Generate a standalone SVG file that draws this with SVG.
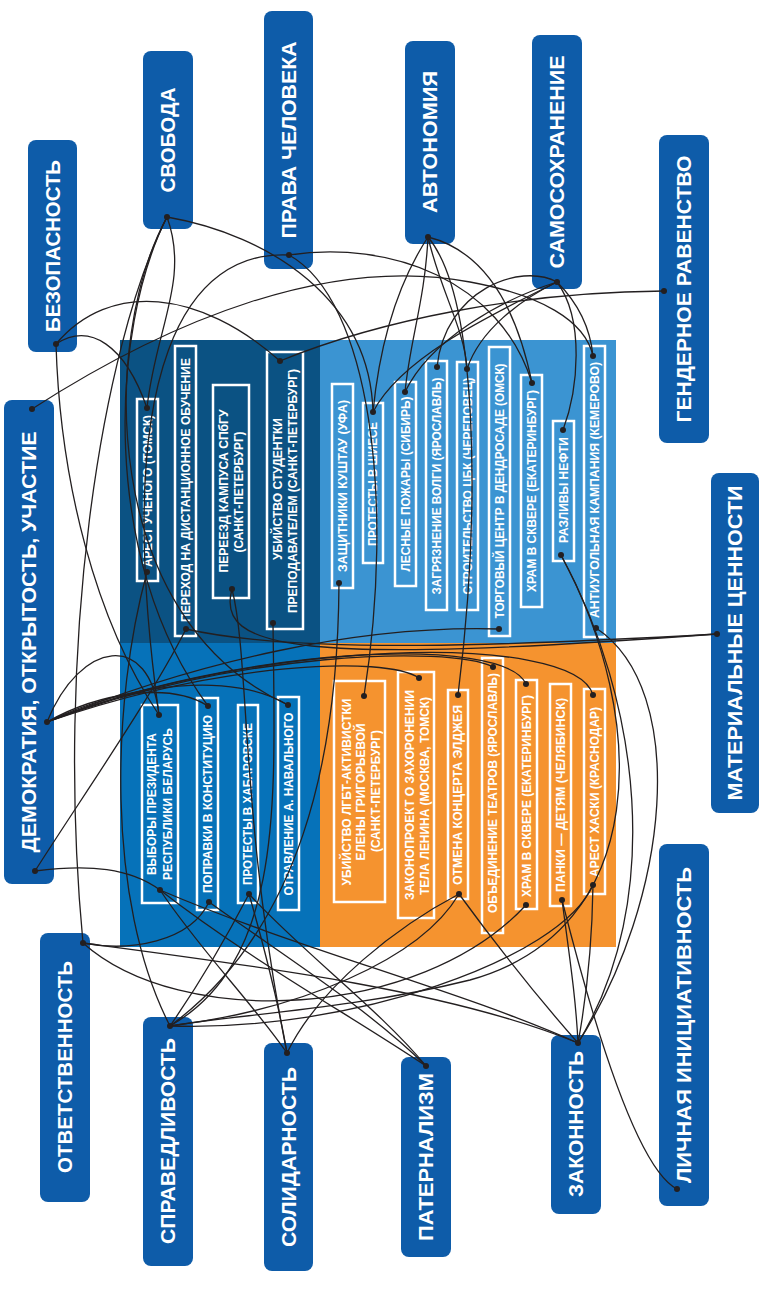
<svg xmlns="http://www.w3.org/2000/svg" width="760" height="1290" viewBox="0 0 760 1290">
<style>
.bg{fill:#ffffff}
.qa{fill:#0b5283}.qb{fill:#3b94d2}.qc{fill:#0672b9}.qd{fill:#f5932f}
.val rect{fill:#0e5ca9}
.val text{font-family:"Liberation Sans",Arial,sans-serif;font-weight:bold;font-size:20px;fill:#ffffff;text-anchor:middle}
.ev rect{fill:none;stroke:#ffffff;stroke-width:2.5}
.ev text{font-family:"Liberation Sans",Arial,sans-serif;font-weight:bold;font-size:12px;fill:#ffffff;text-anchor:middle}
.con path{fill:none;stroke:#231f20;stroke-width:1.3}
.con circle{fill:#231f20}
</style>
<rect class="bg" x="0" y="0" width="760" height="1290"/>
<g id="quadrants">
<rect class="qa" x="120" y="340" width="200" height="303"/>
<rect class="qb" x="320" y="340" width="296" height="303"/>
<rect class="qc" x="120" y="643" width="200" height="304"/>
<rect class="qd" x="320" y="643" width="296" height="304"/>
</g>
<g id="events">
<g id="ev-arest-tomsk" class="ev"><rect x="137" y="399" width="21" height="182"/><text transform="translate(151.8,491) rotate(-90)" textLength="152" lengthAdjust="spacingAndGlyphs">АРЕСТ УЧЕНОГО (ТОМСК)</text></g>
<g id="ev-perehod" class="ev"><rect x="175" y="346" width="21" height="290"/><text transform="translate(189.8,490) rotate(-90)" textLength="264" lengthAdjust="spacingAndGlyphs">ПЕРЕХОД НА ДИСТАНЦИОННОЕ ОБУЧЕНИЕ</text></g>
<g id="ev-pereezd" class="ev"><rect x="213" y="385" width="36" height="213"/><text transform="translate(228.3,491) rotate(-90)" textLength="163" lengthAdjust="spacingAndGlyphs">ПЕРЕЕЗД КАМПУСА  СПбГУ</text><text transform="translate(243.3,492) rotate(-90)" textLength="121" lengthAdjust="spacingAndGlyphs">(САНКТ-ПЕТЕРБУРГ)</text></g>
<g id="ev-ubiystvo-stud" class="ev"><rect x="267" y="352" width="36" height="277"/><text transform="translate(282.3,489) rotate(-90)" textLength="142" lengthAdjust="spacingAndGlyphs">УБИЙСТВО СТУДЕНТКИ</text><text transform="translate(297.3,491) rotate(-90)" textLength="244" lengthAdjust="spacingAndGlyphs">ПРЕПОДАВАТЕЛЕМ (САНКТ-ПЕТЕРБУРГ)</text></g>
<g id="ev-kushtau" class="ev"><rect x="332" y="384" width="21" height="204"/><text transform="translate(346.8,486) rotate(-90)" textLength="172" lengthAdjust="spacingAndGlyphs">ЗАЩИТНИКИ КУШТАУ (УФА)</text></g>
<g id="ev-shies" class="ev"><rect x="363" y="403" width="20" height="160"/><text transform="translate(377.3,484) rotate(-90)" textLength="124" lengthAdjust="spacingAndGlyphs">ПРОТЕСТЫ В ШИЕСЕ</text></g>
<g id="ev-pozhary" class="ev"><rect x="395" y="382" width="21" height="204"/><text transform="translate(409.8,484) rotate(-90)" textLength="175" lengthAdjust="spacingAndGlyphs">ЛЕСНЫЕ ПОЖАРЫ (СИБИРЬ)</text></g>
<g id="ev-volga" class="ev"><rect x="426" y="361" width="21" height="249"/><text transform="translate(440.8,486) rotate(-90)" textLength="217" lengthAdjust="spacingAndGlyphs">ЗАГРЯЗНЕНИЕ ВОЛГИ (ЯРОСЛАВЛЬ)</text></g>
<g id="ev-cbk" class="ev"><rect x="457" y="362" width="21" height="248"/><text transform="translate(471.8,486) rotate(-90)" textLength="217" lengthAdjust="spacingAndGlyphs">СТРОИТЕЛЬСТВО ЦБК (ЧЕРЕПОВЕЦ)</text></g>
<g id="ev-torg" class="ev"><rect x="489" y="347" width="21" height="289"/><text transform="translate(503.8,491) rotate(-90)" textLength="255" lengthAdjust="spacingAndGlyphs">ТОРГОВЫЙ ЦЕНТР В ДЕНДРОСАДЕ (ОМСК)</text></g>
<g id="ev-hram-1" class="ev"><rect x="521" y="375" width="21" height="232"/><text transform="translate(535.8,491) rotate(-90)" textLength="202" lengthAdjust="spacingAndGlyphs">ХРАМ В СКВЕРЕ (ЕКАТЕРИНБУРГ)</text></g>
<g id="ev-neft" class="ev"><rect x="553" y="421" width="21" height="140"/><text transform="translate(567.8,490) rotate(-90)" textLength="106" lengthAdjust="spacingAndGlyphs">РАЗЛИВЫ НЕФТИ</text></g>
<g id="ev-antiugol" class="ev"><rect x="584" y="346" width="21" height="291"/><text transform="translate(598.8,490) rotate(-90)" textLength="256" lengthAdjust="spacingAndGlyphs">АНТИУГОЛЬНАЯ КАМПАНИЯ (КЕМЕРОВО)</text></g>
<g id="ev-vybory" class="ev"><rect x="142" y="705" width="36" height="198"/><text transform="translate(156.3,804) rotate(-90)" textLength="142" lengthAdjust="spacingAndGlyphs">ВЫБОРЫ ПРЕЗИДЕНТА</text><text transform="translate(172.3,804) rotate(-90)" textLength="152" lengthAdjust="spacingAndGlyphs">РЕСПУБЛИКИ БЕЛАРУСЬ</text></g>
<g id="ev-popravki" class="ev"><rect x="197" y="698" width="21" height="212"/><text transform="translate(211.8,804) rotate(-90)" textLength="178" lengthAdjust="spacingAndGlyphs">ПОПРАВКИ В КОНСТИТУЦИЮ</text></g>
<g id="ev-habarovsk" class="ev"><rect x="238" y="705" width="20" height="198"/><text transform="translate(252.3,804) rotate(-90)" textLength="162" lengthAdjust="spacingAndGlyphs">ПРОТЕСТЫ В ХАБАРОВСКЕ</text></g>
<g id="ev-navalny" class="ev"><rect x="278" y="697" width="21" height="213"/><text transform="translate(292.8,804) rotate(-90)" textLength="183" lengthAdjust="spacingAndGlyphs">ОТРАВЛЕНИЕ А. НАВАЛЬНОГО</text></g>
<g id="ev-lgbt" class="ev"><rect x="334" y="681" width="51" height="221"/><text transform="translate(351.3,792) rotate(-90)" textLength="187" lengthAdjust="spacingAndGlyphs">УБИЙСТВО ЛГБТ-АКТИВИСТКИ</text><text transform="translate(365.3,792) rotate(-90)" textLength="137" lengthAdjust="spacingAndGlyphs">ЕЛЕНЫ ГРИГОРЬЕВОЙ</text><text transform="translate(380.3,791) rotate(-90)" textLength="122" lengthAdjust="spacingAndGlyphs">(САНКТ-ПЕТЕРБУРГ)</text></g>
<g id="ev-lenin" class="ev"><rect x="398" y="672" width="36" height="246"/><text transform="translate(413.8,795) rotate(-90)" textLength="210" lengthAdjust="spacingAndGlyphs">ЗАКОНОПРОЕКТ О ЗАХОРОНЕНИИ</text><text transform="translate(429.3,796) rotate(-90)" textLength="198" lengthAdjust="spacingAndGlyphs">ТЕЛА ЛЕНИНА (МОСКВА, ТОМСК)</text></g>
<g id="ev-eldzhey" class="ev"><rect x="448" y="690" width="20" height="209"/><text transform="translate(462.3,795) rotate(-90)" textLength="180" lengthAdjust="spacingAndGlyphs">ОТМЕНА КОНЦЕРТА ЭЛДЖЕЯ</text></g>
<g id="ev-teatry" class="ev"><rect x="482" y="658" width="21" height="275"/><text transform="translate(496.8,793) rotate(-90)" textLength="240" lengthAdjust="spacingAndGlyphs">ОБЪЕДИНЕНИЕ ТЕАТРОВ (ЯРОСЛАВЛЬ)</text></g>
<g id="ev-hram-2" class="ev"><rect x="516" y="680" width="21" height="229"/><text transform="translate(530.8,796) rotate(-90)" textLength="202" lengthAdjust="spacingAndGlyphs">ХРАМ В СКВЕРЕ (ЕКАТЕРИНБУРГ)</text></g>
<g id="ev-panki" class="ev"><rect x="550" y="684" width="21" height="222"/><text transform="translate(564.8,795) rotate(-90)" textLength="194" lengthAdjust="spacingAndGlyphs">ПАНКИ — ДЕТЯМ  (ЧЕЛЯБИНСК)</text></g>
<g id="ev-haski" class="ev"><rect x="584" y="689" width="21" height="205"/><text transform="translate(598.8,792) rotate(-90)" textLength="170" lengthAdjust="spacingAndGlyphs">АРЕСТ ХАСКИ (КРАСНОДАР)</text></g>
</g>
<g id="values">
<g id="v-bezopasnost" class="val"><rect x="28" y="140" width="49" height="212" rx="8"/><text transform="translate(59.5,246) rotate(-90)" textLength="172" lengthAdjust="spacingAndGlyphs">БЕЗОПАСНОСТЬ</text></g>
<g id="v-svoboda" class="val"><rect x="143" y="51" width="50" height="178" rx="8"/><text transform="translate(175,140) rotate(-90)" textLength="105" lengthAdjust="spacingAndGlyphs">СВОБОДА</text></g>
<g id="v-prava" class="val"><rect x="264" y="11" width="49" height="258" rx="8"/><text transform="translate(295.5,140) rotate(-90)" textLength="197" lengthAdjust="spacingAndGlyphs">ПРАВА ЧЕЛОВЕКА</text></g>
<g id="v-avtonomiya" class="val"><rect x="405" y="41" width="50" height="203" rx="8"/><text transform="translate(437,142) rotate(-90)" textLength="142" lengthAdjust="spacingAndGlyphs">АВТОНОМИЯ</text></g>
<g id="v-samosohranenie" class="val"><rect x="532" y="35" width="50" height="254" rx="8"/><text transform="translate(564,162) rotate(-90)" textLength="213" lengthAdjust="spacingAndGlyphs">САМОСОХРАНЕНИЕ</text></g>
<g id="v-gender" class="val"><rect x="659" y="135" width="50" height="308" rx="8"/><text transform="translate(691,289) rotate(-90)" textLength="267" lengthAdjust="spacingAndGlyphs">ГЕНДЕРНОЕ РАВЕНСТВО</text></g>
<g id="v-demokratiya" class="val"><rect x="4" y="400" width="50" height="484" rx="8"/><text transform="translate(36,642) rotate(-90)" textLength="421" lengthAdjust="spacingAndGlyphs">ДЕМОКРАТИЯ, ОТКРЫТОСТЬ, УЧАСТИЕ</text></g>
<g id="v-materialnye" class="val"><rect x="711" y="473" width="48" height="340" rx="8"/><text transform="translate(742,643) rotate(-90)" textLength="315" lengthAdjust="spacingAndGlyphs">МАТЕРИАЛЬНЫЕ ЦЕННОСТИ</text></g>
<g id="v-lichnaya" class="val"><rect x="659" y="844" width="50" height="362" rx="8"/><text transform="translate(691,1025) rotate(-90)" textLength="316" lengthAdjust="spacingAndGlyphs">ЛИЧНАЯ ИНИЦИАТИВНОСТЬ</text></g>
<g id="v-otvetstvennost" class="val"><rect x="40" y="933" width="50" height="269" rx="8"/><text transform="translate(72,1067) rotate(-90)" textLength="212" lengthAdjust="spacingAndGlyphs">ОТВЕТСТВЕННОСТЬ</text></g>
<g id="v-spravedlivost" class="val"><rect x="143" y="1017" width="50" height="249" rx="8"/><text transform="translate(175,1141) rotate(-90)" textLength="206" lengthAdjust="spacingAndGlyphs">СПРАВЕДЛИВОСТЬ</text></g>
<g id="v-solidarnost" class="val"><rect x="264" y="1043" width="49" height="228" rx="8"/><text transform="translate(295.5,1157) rotate(-90)" textLength="180" lengthAdjust="spacingAndGlyphs">СОЛИДАРНОСТЬ</text></g>
<g id="v-paternalizm" class="val"><rect x="401" y="1057" width="50" height="200" rx="8"/><text transform="translate(433,1157) rotate(-90)" textLength="168" lengthAdjust="spacingAndGlyphs">ПАТЕРНАЛИЗМ</text></g>
<g id="v-zakonnost" class="val"><rect x="551" y="1035" width="50" height="179" rx="8"/><text transform="translate(583,1124) rotate(-90)" textLength="146" lengthAdjust="spacingAndGlyphs">ЗАКОННОСТЬ</text></g>
</g>
<g id="connectors" class="con">
<path d="M56,344 C90,322 125,345 147,408"/>
<path d="M56,344 C110,280 200,290 280,361"/>
<path d="M56,344 C60,480 95,620 159,715"/>
<path d="M167,217 C190,280 155,330 147,408"/>
<path d="M167,217 C110,330 100,560 208,706"/>
<path d="M167,217 C100,340 100,620 288,705"/>
<path d="M167,217 C100,350 55,650 83,943"/>
<path d="M167,217 C270,235 370,300 373,412"/>
<path d="M289,255 C390,240 500,280 532,383"/>
<path d="M289,255 C370,300 395,500 364,696"/>
<path d="M289,255 C190,250 110,360 159,715"/>
<path d="M428,237 C400,280 380,340 373,412"/>
<path d="M428,237 C440,290 465,330 467,369"/>
<path d="M428,237 C480,300 480,520 458,695"/>
<path d="M428,237 C480,250 515,300 532,383"/>
<path d="M428,237 C425,300 410,340 405,392"/>
<path d="M557,282 C520,262 445,290 437,367"/>
<path d="M557,282 C520,300 480,330 467,369"/>
<path d="M557,282 C480,320 400,360 373,412"/>
<path d="M557,282 C500,300 430,340 405,392"/>
<path d="M557,282 C585,320 578,390 563,430"/>
<path d="M557,282 C575,300 590,325 593,356"/>
<path d="M664,291 C520,292 380,320 280,361"/>
<path d="M32,409 C170,320 330,255 470,282 C540,295 585,320 593,356"/>
<path d="M47,722 C80,640 150,630 159,715"/>
<path d="M47,722 C200,660 360,625 499,629"/>
<path d="M47,722 C230,652 450,645 493,667"/>
<path d="M47,722 C240,645 505,635 526,684"/>
<path d="M47,722 C250,640 575,630 593,695"/>
<path d="M47,722 C220,662 385,655 419,678"/>
<path d="M47,722 C100,692 170,682 208,706"/>
<path d="M47,722 C130,682 235,672 288,705"/>
<path d="M35,871 C90,864 130,868 160,890"/>
<path d="M35,871 C80,800 150,700 186,629"/>
<path d="M717,634 C520,645 300,655 186,629"/>
<path d="M232,589 C215,650 300,665 717,634"/>
<path d="M232,589 C250,660 240,820 287,1053"/>
<path d="M339,583 C338,760 300,930 170,1026"/>
<path d="M147,572 C112,700 105,900 170,1026"/>
<path d="M273,623 C275,800 285,960 170,1026"/>
<path d="M249,894 C225,940 195,990 170,1026"/>
<path d="M249,894 C300,950 380,1010 426,1066"/>
<path d="M249,894 C265,950 278,1000 287,1053"/>
<path d="M160,890 C200,950 250,1000 287,1053"/>
<path d="M160,890 C300,950 460,990 578,1043"/>
<path d="M160,890 C250,960 350,1015 426,1066"/>
<path d="M209,902 C290,960 370,1010 426,1066"/>
<path d="M83,943 C130,952 190,942 209,902"/>
<path d="M83,943 C250,965 450,990 578,1043"/>
<path d="M83,943 C180,1030 420,1020 526,905"/>
<path d="M170,1026 C300,1010 420,960 459,894"/>
<path d="M170,1026 C350,1032 560,960 593,885"/>
<path d="M459,894 C500,950 540,1000 578,1043"/>
<path d="M459,894 C400,925 320,985 287,1053"/>
<path d="M593,885 C592,950 586,1000 578,1043"/>
<path d="M562,900 C570,960 576,1000 578,1043"/>
<path d="M562,900 C600,1050 640,1170 677,1189"/>
<path d="M596,628 C690,690 670,900 578,1043"/>
<path d="M561,555 C640,700 665,900 578,1043"/>
<path d="M561,555 C650,720 650,930 470,980 C350,1010 230,1015 170,1026"/>
<circle cx="56" cy="344" r="3"/><circle cx="167" cy="217" r="3"/><circle cx="289" cy="255" r="3"/><circle cx="428" cy="237" r="3"/><circle cx="557" cy="282" r="3"/><circle cx="664" cy="291" r="3"/>
<circle cx="32" cy="409" r="3"/><circle cx="47" cy="722" r="3"/><circle cx="35" cy="871" r="3"/><circle cx="717" cy="634" r="3"/><circle cx="677" cy="1189" r="3"/>
<circle cx="83" cy="943" r="3"/><circle cx="170" cy="1026" r="3"/><circle cx="287" cy="1053" r="3"/><circle cx="426" cy="1066" r="3"/><circle cx="578" cy="1043" r="3"/>
<circle cx="147" cy="408" r="3"/><circle cx="147" cy="572" r="3"/><circle cx="186" cy="629" r="3"/><circle cx="232" cy="589" r="3"/><circle cx="280" cy="361" r="3"/><circle cx="273" cy="623" r="3"/>
<circle cx="339" cy="583" r="3"/><circle cx="373" cy="412" r="3"/><circle cx="405" cy="392" r="3"/><circle cx="437" cy="367" r="3"/><circle cx="467" cy="369" r="3"/><circle cx="499" cy="629" r="3"/>
<circle cx="532" cy="383" r="3"/><circle cx="563" cy="430" r="3"/><circle cx="561" cy="555" r="3"/><circle cx="593" cy="356" r="3"/><circle cx="596" cy="628" r="3"/>
<circle cx="159" cy="715" r="3"/><circle cx="160" cy="890" r="3"/><circle cx="208" cy="706" r="3"/><circle cx="209" cy="902" r="3"/><circle cx="249" cy="894" r="3"/><circle cx="288" cy="705" r="3"/>
<circle cx="364" cy="696" r="3"/><circle cx="419" cy="678" r="3"/><circle cx="458" cy="695" r="3"/><circle cx="459" cy="894" r="3"/><circle cx="493" cy="667" r="3"/>
<circle cx="526" cy="684" r="3"/><circle cx="526" cy="905" r="3"/><circle cx="562" cy="900" r="3"/><circle cx="593" cy="695" r="3"/><circle cx="593" cy="885" r="3"/>
</g>
</svg>
